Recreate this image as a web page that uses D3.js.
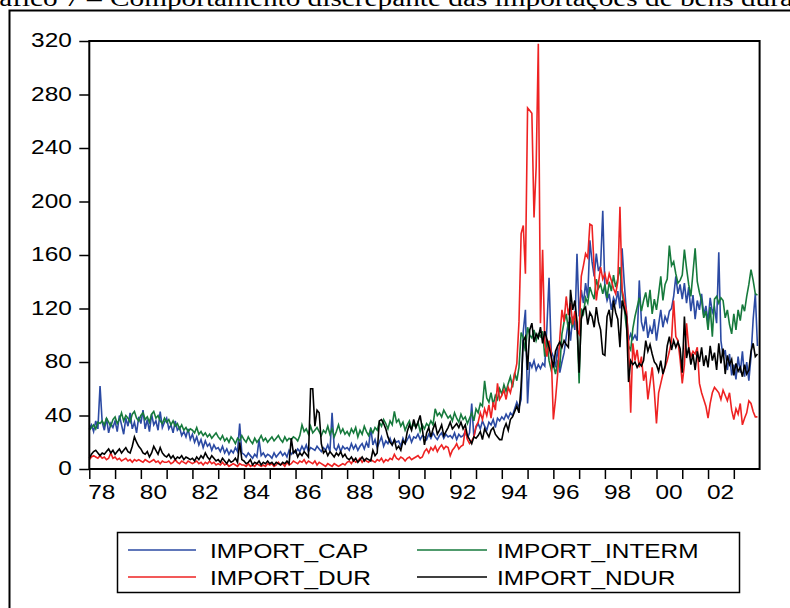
<!DOCTYPE html>
<html>
<head>
<meta charset="utf-8">
<script src="https://cdn.jsdelivr.net/npm/d3@7"></script>
<style>
  body { margin: 0; background: #fff; }
  svg { display: block; }
</style>
</head>
<body>
<svg id="chart" width="790" height="608"></svg>
<script>
// Monthly import series, January 1978 to December 2003 (one row per year).
const firstYear = 1978;
const lastYear = 2003;

const importCap = [
  30, 33, 28, 36, 30, 62, 35, 29, 38, 27, 34, 31,
  36, 28, 40, 33, 26, 38, 32, 42, 30, 35, 27, 39,
  34, 44, 30, 37, 28, 41, 33, 36, 29, 43, 31, 35,
  38, 30, 33, 27, 36, 29, 31, 25, 28, 24, 30, 22,
  26, 20, 24, 18, 22, 16, 21, 17, 19, 14, 18, 15,
  16, 13, 17, 12, 15, 11, 14, 12, 16, 13, 34, 12,
  11, 9, 12, 10, 8, 11, 9, 22, 10, 12, 9, 11,
  10, 8, 12, 9, 11, 13, 10, 12, 9, 14, 11, 13,
  12, 15, 13, 17, 14, 18, 13, 16, 15, 14, 17, 15,
  13, 16, 14, 18, 13, 42, 16, 14, 18, 13, 17, 15,
  16, 14, 19, 15, 18, 14, 17, 19, 15, 20, 16, 31,
  18, 22, 16, 20, 24, 17, 21, 19, 23, 18, 22, 20,
  21, 17, 23, 19, 22, 25, 20, 24, 23, 26, 22, 25,
  24, 22, 26, 23, 27, 24, 22, 25, 27, 23, 26, 24,
  25, 23, 27, 22, 26, 24, 25, 28, 23, 27, 49, 24,
  31, 34, 30, 36, 32, 29, 35, 33, 37, 31, 38, 36,
  39, 37, 41, 38, 42, 40, 45, 50, 46, 52, 103, 119,
  49, 80, 76, 81, 74, 78, 75, 79, 77, 106, 143, 88,
  84, 76, 91, 72, 80, 87, 99, 110, 96, 114, 104, 161,
  114, 134, 124, 139, 128, 171, 155, 144, 161, 148, 152, 193,
  134, 126, 131, 119, 128, 124, 133, 120, 165, 139, 118, 96,
  101, 97, 100, 96, 141, 110, 103, 114, 98, 106, 101, 112,
  96, 108, 119, 106, 114, 110, 118, 120, 129, 144, 131, 138,
  127, 139, 124, 136, 118, 130, 112, 126, 119, 131, 115, 122,
  110, 128, 117, 121, 109, 162, 96, 84, 89, 74, 86, 70,
  78, 67, 84, 72, 88, 69, 80, 66, 84, 112, 131, 92
];

const importInterm = [
  29, 31, 33, 30, 35, 34, 36, 33, 38, 35, 32, 37,
  39, 34, 37, 42, 36, 40, 38, 35, 41, 43, 38, 36,
  40, 42, 37, 39, 35, 41, 43, 38, 40, 36, 34, 38,
  35, 37, 33, 36, 32, 34, 30, 33, 29, 31, 28, 30,
  29, 27, 31, 26, 28, 25, 27, 24, 26, 23, 25, 27,
  24, 22, 25, 21, 23, 20, 24, 22, 19, 23, 21, 25,
  22, 20, 24, 21, 19, 23, 20, 22, 25, 21, 23, 20,
  22, 24, 21, 23, 25, 22, 20, 24, 21, 23, 22, 24,
  23, 21, 25, 33, 28, 30, 26, 32, 27, 29, 31, 28,
  25, 29, 27, 32, 26, 30, 24, 28, 33, 27, 30, 26,
  28, 25, 30, 27, 31, 24, 29, 26, 32, 28, 25, 30,
  27, 31, 29, 35, 32, 37, 34, 30, 36, 33, 43, 35,
  37, 32, 35, 29, 33, 36, 30, 34, 31, 35, 28, 33,
  30, 34, 32, 36, 33, 45, 40, 42, 39, 44, 41, 38,
  40, 36, 42, 38, 35, 41, 37, 39, 34, 38, 42, 36,
  45, 42, 49, 47, 66, 53, 50, 57, 48, 55, 52, 60,
  56, 63, 58, 64, 69, 61, 72, 66, 76, 102, 98, 88,
  106, 100, 98, 104, 96, 101, 99, 103, 84, 97, 81, 74,
  78, 71, 80, 76, 101, 110, 116, 104, 112, 107, 115, 109,
  64, 120, 116, 128, 124, 136, 131, 127, 142, 135, 138, 131,
  138, 128, 140, 133, 145, 136, 142, 151, 132, 120, 106, 92,
  89, 105, 114, 121, 128, 118, 126, 132, 121, 134, 116, 127,
  119, 131, 144, 126, 138, 142, 167, 152, 155, 146, 139, 141,
  145, 164, 150, 138, 129, 147, 165, 140, 132, 126, 113, 118,
  104, 121, 99, 127, 129, 124, 128, 126, 113, 119, 108, 101,
  116, 104, 119, 111, 123, 118, 129, 138, 149, 141, 131, 130
];

const importDur = [
  7, 9, 10, 9, 8, 10, 8, 9, 7, 8, 12, 8,
  9, 7, 8, 6, 7, 8, 6, 7, 5, 7, 6, 7,
  6, 5, 7, 6, 5, 6, 7, 5, 6, 4, 6, 5,
  5, 6, 4, 5, 7, 5, 4, 6, 5, 4, 6, 5,
  4, 5, 6, 4, 5, 3, 5, 4, 6, 4, 5, 3,
  4, 3, 5, 3, 4, 2, 3, 4, 3, 2, 4, 3,
  3, 2, 4, 2, 3, 2, 4, 3, 2, 3, 2, 4,
  3, 4, 2, 3, 5, 3, 4, 2, 5, 3, 4, 6,
  5, 4, 6, 5, 7, 4, 6, 5, 4, 6, 3, 5,
  4, 3, 2, 4, 3, 2, 4, 3, 2, 3, 4, 3,
  5, 6, 4, 7, 5, 6, 8, 5, 7, 6, 5, 7,
  6, 5, 7, 6, 8, 5, 7, 6, 8, 7, 11, 8,
  7, 9, 8, 6, 8, 9, 7, 8, 9, 10, 8, 9,
  13, 15, 12, 16, 14, 17, 13, 16, 18, 15, 17, 16,
  10, 14, 16, 19, 15, 17, 18, 30, 22, 19, 21, 24,
  32, 35, 42, 37, 45, 40, 48, 38, 50, 44, 64, 52,
  55, 59, 52, 61, 57, 64, 71, 79, 110, 176, 182, 146,
  270, 268, 266, 188, 226, 318, 109, 164, 94, 84, 96, 87,
  37, 52, 71, 98, 119, 110, 129, 115, 124, 108, 118, 104,
  101, 144, 152, 161, 158, 183, 182, 150, 126, 139, 151, 142,
  146, 138, 146, 141, 135, 131, 140, 196, 134, 126, 118, 96,
  42, 94, 81, 89, 76, 84, 66, 73, 52, 64, 76, 58,
  34, 57, 64, 71, 76, 81, 88, 96, 126, 99, 96, 82,
  64, 78, 109, 91, 84, 88, 86, 91, 64, 57, 52, 47,
  38, 49, 57, 61, 59, 57, 52, 59, 55, 51, 57, 44,
  37, 45, 41, 49, 33, 38, 42, 51, 49, 43, 39, 39
];

const importNdur = [
  8, 11, 13, 14, 12, 10, 12, 11, 13, 15, 12, 14,
  11, 13, 15, 12, 14, 16, 13, 12, 17, 24, 20, 17,
  15, 12, 11, 13, 9, 12, 17, 14, 11, 16, 12, 10,
  9, 11, 8, 10, 7, 9, 8, 10, 7, 9, 8, 7,
  8, 6, 9, 7, 10, 8, 12, 9, 7, 10, 8, 6,
  7, 5, 8, 6, 4, 7, 5, 6, 8, 5, 20, 7,
  6, 4, 5, 7, 3, 5, 4, 6, 3, 5, 4, 6,
  4, 5, 3, 5, 4, 3, 5, 4, 6, 4, 23, 12,
  14, 9, 12, 10, 13, 11, 9, 60, 60, 32, 44, 42,
  19, 12, 14, 10, 13, 11, 9, 12, 10, 13, 9, 11,
  8, 7, 9, 6, 8, 5, 7, 9, 6, 8, 7, 6,
  14, 10, 12, 36, 37, 34, 30, 24, 20, 18, 22, 15,
  17, 14, 21, 19, 28, 33, 29, 37, 31, 35, 40, 30,
  18, 27, 31, 24, 30, 34, 26, 29, 33, 25, 28, 31,
  35, 30, 32, 34, 31, 35, 30, 33, 25, 22, 19, 24,
  23, 25, 28, 22, 30, 27, 24, 29, 31, 26, 24, 22,
  22, 30, 34, 29, 37, 39, 43, 47, 42, 62, 96, 99,
  74, 104, 109, 95, 101, 98, 106, 94, 103, 97, 91, 84,
  76, 88, 92, 95, 91, 96, 93, 91, 134, 119, 126, 110,
  72, 112, 119, 121, 108, 117, 114, 106, 121, 110, 104, 86,
  85, 114, 119, 106, 126, 117, 112, 91, 126, 120, 114, 65,
  81, 78, 80, 76, 79, 77, 81, 96, 88, 93, 86, 80,
  78, 73, 81, 71, 77, 92, 99, 89, 96, 91, 95, 90,
  72, 114, 83, 91, 78, 86, 74, 88, 80, 91, 77, 85,
  76, 92, 81, 87, 74, 94, 79, 90, 71, 85, 78, 82,
  70, 79, 73, 76, 69, 78, 71, 74, 88, 94, 84, 86
];

const seriesNames = ["IMPORT_CAP", "IMPORT_INTERM", "IMPORT_DUR", "IMPORT_NDUR"];
const seriesColors = ["#2b4aa3", "#167a3c", "#ee2222", "#000000"];
const yTickValues = [0, 40, 80, 120, 160, 200, 240, 280, 320];
const xTickYears = d3.range(firstYear, lastYear + 1);
const titleLead = "Gráfico 7 – ";
const titleRest = "Comportamento discrepante das importações de bens duráveis";

const series = [importCap, importInterm, importDur, importNdur].map((values, k) => ({
  name: seriesNames[k],
  color: seriesColors[k],
  points: values.map((v, i) => ({ t: firstYear + i / 12, v }))
}));

// ---- layout ----
const svg = d3.select("#chart");
const plot = { left: 89.3, right: 759.6, top: 41, bottom: 469 };
const FONT = "'Liberation Sans', Arial, Helvetica, sans-serif";
const WIDE = 1.22; // glyphs are drawn horizontally widened

const x = d3.scaleLinear().domain([firstYear, lastYear + 1]).range([plot.left, plot.right]);
const y = d3.scaleLinear().domain([0, 320]).range([plot.bottom, plot.top]);

function widen(node) {
  const w = node.getComputedTextLength();
  node.setAttribute("textLength", (w * WIDE).toFixed(2));
  node.setAttribute("lengthAdjust", "spacingAndGlyphs");
  return w * WIDE;
}

svg.append("rect").attr("width", 790).attr("height", 608).attr("fill", "#fff");

// page frame (continues past the right and bottom edges)
svg.append("rect")
  .attr("x", 9.5).attr("y", 10.5).attr("width", 900).attr("height", 700)
  .attr("fill", "none").attr("stroke", "#000").attr("stroke-width", 2);

// caption above the frame
const titleFont = "'Liberation Serif', 'Times New Roman', serif";
const lead = svg.append("text")
  .attr("y", 6).attr("font-family", titleFont).attr("font-size", 24).attr("fill", "#000")
  .style("white-space", "pre")
  .text(titleLead);
const leadW = widen(lead.node());
lead.attr("x", 109 - leadW);
const rest = svg.append("text")
  .attr("x", 110).attr("y", 6).attr("font-family", titleFont).attr("font-size", 24).attr("fill", "#000")
  .text(titleRest);
widen(rest.node());

// ---- series ----
const line = d3.line().x(d => x(d.t)).y(d => y(d.v));
const gLines = svg.append("g");
series.forEach(s => {
  gLines.append("path")
    .datum(s.points)
    .attr("d", line)
    .attr("fill", "none")
    .attr("stroke", s.color)
    .attr("stroke-width", 1.6)
    .attr("stroke-linejoin", "miter");
});

// plot frame
svg.append("rect")
  .attr("x", plot.left).attr("y", plot.top)
  .attr("width", plot.right - plot.left).attr("height", plot.bottom - plot.top)
  .attr("fill", "none").attr("stroke", "#000").attr("stroke-width", 2);

// ---- axes ----
const yAxis = svg.append("g")
  .attr("transform", `translate(${plot.left},0)`)
  .call(d3.axisLeft(y).tickValues(yTickValues).tickSize(10).tickSizeOuter(0));
yAxis.select(".domain").remove();
yAxis.selectAll(".tick line").attr("stroke", "#000").attr("stroke-width", 1.5);
yAxis.selectAll(".tick text")
  .attr("font-family", FONT).attr("font-size", 20).attr("fill", "#000")
  .attr("dy", null).attr("y", 5.5).attr("text-anchor", "start")
  .each(function () {
    const w = widen(this);
    this.setAttribute("x", (-17.5 - w).toFixed(2));
  });

const xAxis = svg.append("g")
  .attr("transform", `translate(0,${plot.bottom})`)
  .call(d3.axisBottom(x).tickValues(xTickYears).tickSize(10).tickSizeOuter(0)
    .tickFormat(d => (d % 2 === 0 ? String(d).slice(2) : "")));
xAxis.select(".domain").remove();
xAxis.selectAll(".tick line").attr("stroke", "#000").attr("stroke-width", 1.5);
xAxis.selectAll(".tick text")
  .attr("font-family", FONT).attr("font-size", 20).attr("fill", "#000")
  .attr("dy", null).attr("y", 29.5).attr("x", -1.5).attr("text-anchor", "start")
  .each(function () { if (this.textContent) widen(this); });

// ---- legend ----
const legend = svg.append("g");
legend.append("rect")
  .attr("x", 117.5).attr("y", 532.5).attr("width", 622).attr("height", 60)
  .attr("fill", "#fff").attr("stroke", "#000").attr("stroke-width", 1.5);
const legendCols = [{ x1: 128, x2: 196, tx: 210 }, { x1: 417, x2: 487, tx: 497 }];
const legendRows = [550, 577];
series.forEach((s, k) => {
  const col = legendCols[k % 2], row = legendRows[Math.floor(k / 2)];
  legend.append("line")
    .attr("x1", col.x1).attr("x2", col.x2).attr("y1", row).attr("y2", row)
    .attr("stroke", s.color).attr("stroke-width", 1.6);
  const t = legend.append("text")
    .attr("x", col.tx).attr("y", row + 7.5)
    .attr("font-family", FONT).attr("font-size", 20).attr("fill", "#000")
    .text(s.name);
  widen(t.node());
});
</script>
</body>
</html>
